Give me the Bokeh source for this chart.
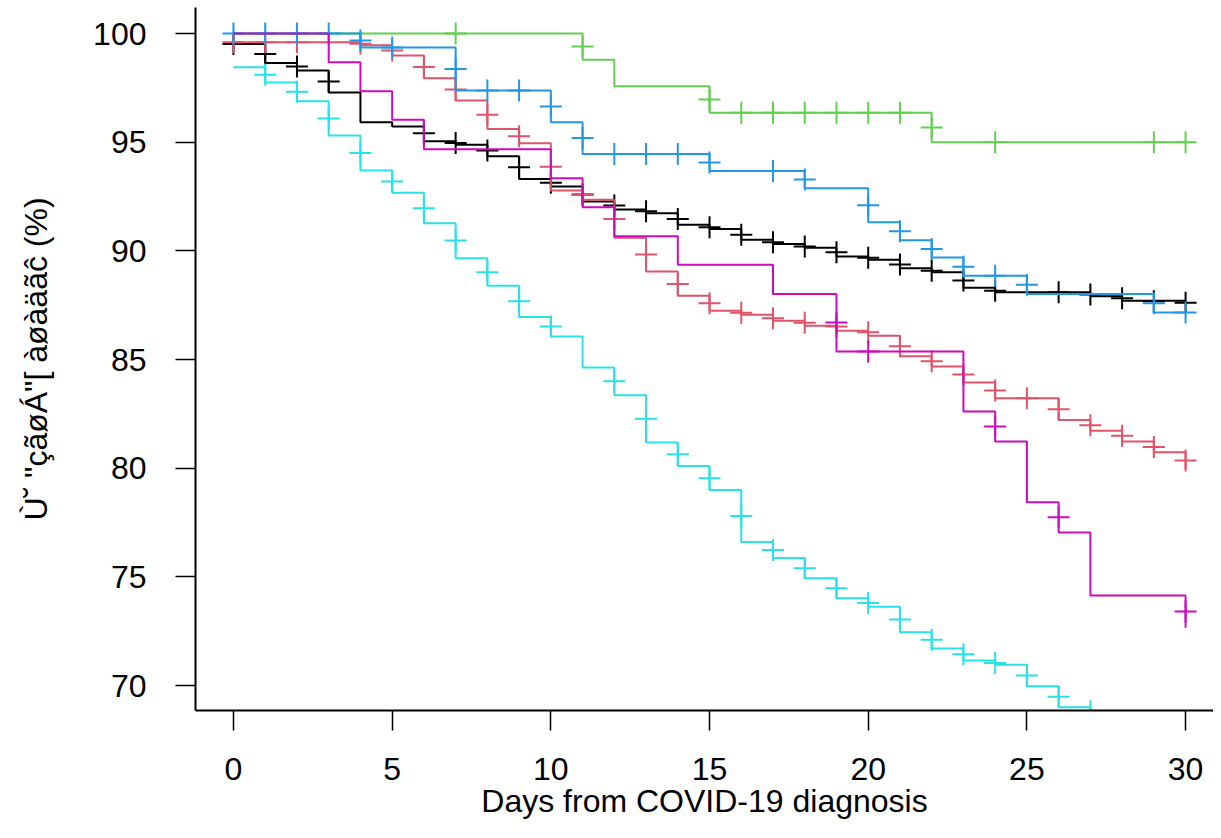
from bokeh.plotting import figure
from bokeh.models import Range1d, FixedTicker
from bokeh.embed import file_html
from bokeh.resources import INLINE

# ---- data (days, survival %) ----
black_t = [0, 1, 2, 3, 4, 5, 6, 7, 8, 9, 10, 11, 12, 13, 14, 15, 16, 17, 18, 19, 20, 21, 22, 23, 24, 27, 28, 30]
black_s = [99.52, 98.65, 98.30, 97.29, 95.92, 95.72, 95.04, 94.88, 94.36, 93.31, 92.96, 92.27, 91.90, 91.73,
           91.20, 91.01, 90.51, 90.32, 90.14, 89.74, 89.59, 89.20, 89.02, 88.30, 88.10, 87.91, 87.71, 87.71]
black_ct = [0, 1, 2, 3, 6, 7, 8, 9, 10, 11, 12, 13, 14, 15, 16, 17, 18, 19, 20, 21, 22, 23, 24, 26, 27, 28, 29, 30]
black_cs = [99.52, 99.06, 98.48, 97.79, 95.41, 94.97, 94.62, 93.85, 93.14, 92.60, 92.09, 91.82, 91.47, 91.09,
            90.74, 90.40, 90.20, 89.94, 89.68, 89.37, 89.09, 88.64, 88.17, 88.10, 87.99, 87.82, 87.68, 87.61]

red_t = [0, 4, 5, 6, 7, 8, 9, 10, 11, 12, 13, 14, 15, 16, 17, 18, 19, 20, 21, 22, 23, 24, 26, 27, 28, 29, 30]
red_s = [99.60, 99.46, 98.99, 97.94, 96.92, 95.61, 94.95, 92.78, 92.35, 90.60, 89.05, 87.94, 87.25, 87.06,
         86.79, 86.56, 86.33, 86.10, 85.15, 84.68, 83.94, 83.22, 82.22, 81.72, 81.23, 80.73, 79.97]
red_ct = [0, 1, 2, 4, 5, 6, 7, 8, 9, 10, 11, 12, 13, 14, 15, 16, 17, 18, 19, 20, 21, 22, 23, 24, 25, 26, 27, 28, 29, 30]
red_cs = [99.60, 99.60, 99.60, 99.53, 99.22, 98.46, 97.43, 96.26, 95.28, 93.87, 92.57, 91.47, 89.83, 88.48,
          87.59, 87.15, 86.90, 86.69, 86.52, 86.26, 85.61, 84.92, 84.31, 83.57, 83.22, 82.71, 81.98, 81.49,
          80.98, 80.35]

green_t = [0, 11, 12, 15, 22, 30]
green_s = [100.0, 98.79, 97.58, 96.36, 95.00, 95.00]
green_ct = [7, 11, 15, 16, 17, 18, 19, 20, 21, 22, 24, 29, 30]
green_cs = [100.0, 99.40, 96.97, 96.36, 96.36, 96.36, 96.36, 96.36, 96.36, 95.68, 95.00, 95.00, 95.00]

blue_t = [0, 4, 7, 10, 11, 15, 18, 20, 21, 22, 23, 25, 29, 30]
blue_s = [100.0, 99.36, 97.38, 95.92, 94.46, 93.68, 92.88, 91.32, 90.49, 89.69, 88.86, 88.02, 87.16, 87.16]
blue_ct = [0, 1, 2, 3, 4, 5, 7, 8, 9, 10, 11, 12, 13, 14, 15, 17, 18, 20, 21, 22, 23, 24, 25, 29, 30]
blue_cs = [100.0, 100.0, 100.0, 100.0, 99.68, 99.36, 98.37, 97.38, 97.38, 96.65, 95.19, 94.46, 94.46, 94.46,
           94.07, 93.68, 93.28, 92.10, 90.90, 90.09, 89.27, 88.86, 88.44, 87.59, 87.16]

cyan_t = [0, 1, 2, 3, 4, 5, 6, 7, 8, 9, 10, 11, 12, 13, 14, 15, 16, 17, 18, 19, 20, 21, 22, 23, 24, 25, 26, 27, 30]
cyan_s = [98.45, 97.75, 96.89, 95.31, 93.70, 92.67, 91.27, 89.66, 88.40, 86.96, 86.06, 84.63, 83.36, 81.18,
          80.10, 79.00, 76.60, 75.87, 74.94, 74.02, 73.63, 72.45, 71.70, 71.15, 70.95, 69.97, 69.00, 68.64, 68.64]
cyan_ct = [1, 2, 3, 4, 5, 6, 7, 8, 9, 10, 12, 13, 14, 15, 16, 17, 18, 19, 20, 21, 22, 23, 24, 25, 26, 27]
cyan_cs = [98.11, 97.32, 96.09, 94.51, 93.19, 91.96, 90.48, 89.02, 87.68, 86.52, 84.00, 82.27, 80.64, 79.54,
           77.80, 76.24, 75.40, 74.48, 73.80, 73.04, 72.10, 71.44, 71.04, 70.46, 69.48, 68.82]

mag_t = [0, 3, 4, 5, 6, 10, 11, 12, 14, 17, 19, 23, 24, 25, 26, 27, 30]
mag_s = [100.0, 98.68, 97.35, 96.03, 94.68, 93.34, 92.01, 90.67, 89.36, 88.02, 85.37, 82.61, 81.23, 78.43,
         77.04, 74.14, 72.66]
mag_ct = [19, 20, 24, 26, 30]
mag_cs = [86.70, 85.37, 81.92, 77.74, 73.40]

x_ticks = [0, 5, 10, 15, 20, 25, 30]
y_ticks = [70, 75, 80, 85, 90, 95, 100]
x_title = "Days from COVID-19 diagnosis"
y_title = 'Ù˘ "çãøÁ"[ àøàäãĉ (%)'

series = [
    (black_t, black_s, black_ct, black_cs, "#000000"),
    (red_t, red_s, red_ct, red_cs, "#DF536B"),
    (green_t, green_s, green_ct, green_cs, "#61D04F"),
    (blue_t, blue_s, blue_ct, blue_cs, "#2297E6"),
    (cyan_t, cyan_s, cyan_ct, cyan_cs, "#28E2E5"),
    (mag_t, mag_s, mag_ct, mag_cs, "#CD0BBC"),
]

FONT = "Liberation Sans"

p = figure(width=1213, height=830, output_backend="svg", toolbar_location=None,
           x_range=Range1d(-1.197, 30.88), y_range=Range1d(68.85, 101.20),
           min_border_left=195, min_border_right=0, min_border_top=7, min_border_bottom=120)
p.outline_line_color = None
p.grid.visible = False
p.background_fill_color = "white"
p.border_fill_color = "white"

for t, s, ct, cs, col in series:
    p.step(t, s, mode="after", line_color=col, line_width=2)
    p.scatter(ct, cs, marker="cross", size=22, line_color=col, line_width=2)

for ax in (p.xaxis[0], p.yaxis[0]):
    ax.axis_line_width = 2
    ax.axis_line_color = "black"
    ax.major_tick_out = 20
    ax.major_tick_in = 0
    ax.major_tick_line_width = 1.5
    ax.minor_tick_line_color = None
    ax.major_label_text_font = FONT
    ax.major_label_text_font_size = "32px"
    ax.major_label_text_color = "black"
    ax.axis_label_text_font = FONT
    ax.axis_label_text_font_size = "32px"
    ax.axis_label_text_font_style = "normal"
    ax.axis_label_text_color = "black"

p.xaxis[0].ticker = FixedTicker(ticks=x_ticks)
p.yaxis[0].ticker = FixedTicker(ticks=y_ticks)
p.xaxis[0].major_label_standoff = 27
p.yaxis[0].major_label_standoff = 29

p.xaxis[0].axis_label = x_title
p.xaxis[0].axis_label_standoff = 0
p.yaxis[0].axis_label = y_title
p.yaxis[0].axis_label_standoff = 36

open("out.html", "w").write(file_html(p, INLINE))
